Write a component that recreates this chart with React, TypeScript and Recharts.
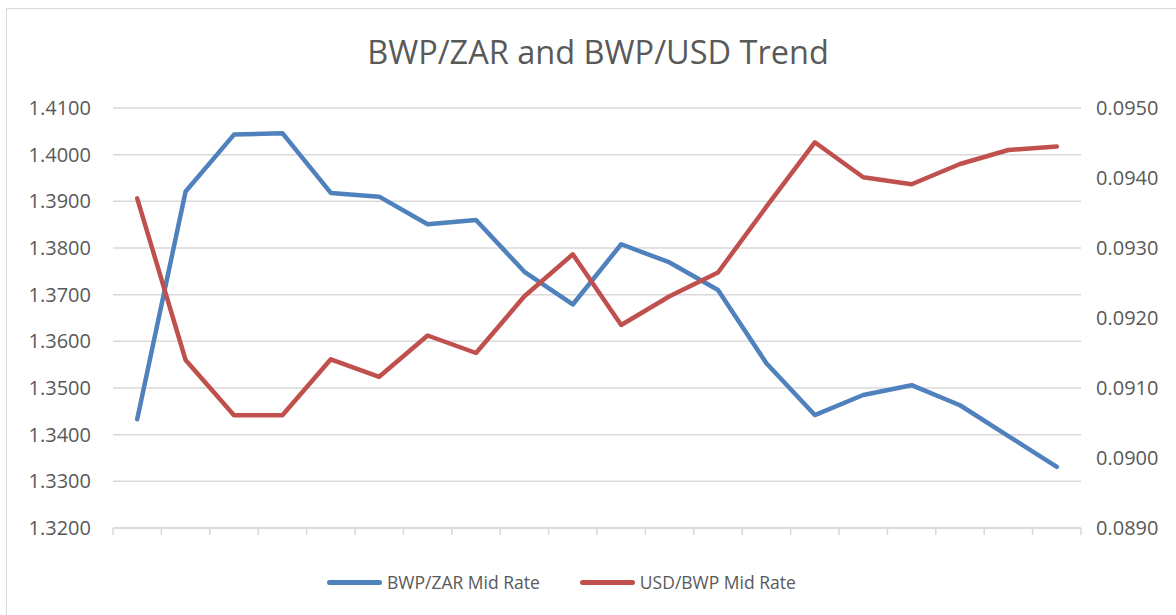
import { CartesianGrid, Line, LineChart, XAxis, YAxis } from "recharts";

// 20 periods, no labels shown on the x axis
const periods = ["1", "2", "3", "4", "5", "6", "7", "8", "9", "10", "11", "12", "13", "14", "15", "16", "17", "18", "19", "20"];

const bwpZar = [
  1.3433, 1.3921, 1.4043, 1.4046, 1.3918, 1.391, 1.3851, 1.386, 1.3749, 1.3679,
  1.3808, 1.3769, 1.371, 1.3553, 1.3442, 1.3485, 1.3506, 1.3463, 1.3397, 1.3331,
];

const usdBwp = [
  0.09371, 0.0914, 0.09061, 0.09061, 0.09141, 0.09116, 0.09175, 0.0915, 0.09231, 0.09291,
  0.0919, 0.09231, 0.09265, 0.09359, 0.09451, 0.09401, 0.09391, 0.0942, 0.0944, 0.09445,
];

const leftTicks = [1.32, 1.33, 1.34, 1.35, 1.36, 1.37, 1.38, 1.39, 1.4, 1.41];
const rightTicks = [0.089, 0.09, 0.091, 0.092, 0.093, 0.094, 0.095];
const xTicks = [0, 1, 2, 3, 4, 5, 6, 7, 8, 9, 10, 11, 12, 13, 14, 15, 16, 17, 18, 19, 20];

const BLUE = "#4F81BD";
const RED = "#C0504D";
const TEXT = "#595959";
const GRID = "#D9D9D9";
const FONT = "'Open Sans', sans-serif";

const rows = periods.map((p, i) => ({
  period: p,
  x: i + 0.5, // centre of the i-th category slot
  zar: bwpZar[i],
  usd: usdBwp[i],
}));

const tick = { fontSize: 20, fill: TEXT, fontFamily: FONT };

function LegendItem({ color, label }: { color: string; label: string }) {
  return (
    <span style={{ display: "flex", alignItems: "center", gap: 5 }}>
      <span style={{ display: "inline-block", width: 55, height: 5, borderRadius: 3, background: color }} />
      <span>{label}</span>
    </span>
  );
}

export default function App() {
  return (
    <div style={{ position: "absolute", left: 0, top: 0, width: 1176, height: 615, background: "#fff", overflow: "hidden" }}>
      <div
        style={{
          position: "absolute",
          left: 6,
          top: 8,
          width: 1200,
          height: 640,
          border: `1.5px solid ${GRID}`,
          boxSizing: "border-box",
        }}
      />
      <div
        style={{
          position: "absolute",
          left: 298,
          top: 32,
          width: 600,
          textAlign: "center",
          fontFamily: FONT,
          fontSize: 32.5,
          lineHeight: "40px",
          color: TEXT,
        }}
      >
        BWP/ZAR and BWP/USD Trend
      </div>
      <LineChart
        width={1176}
        height={615}
        data={rows}
        margin={{ top: 108, right: 0, bottom: 57, left: 0 }}
        style={{ position: "absolute", left: 0, top: 0 }}
      >
        <CartesianGrid yAxisId="left" stroke={GRID} strokeWidth={1.5} vertical={false} />
        <XAxis
          type="number"
          dataKey="x"
          domain={[0, 20]}
          ticks={xTicks}
          height={30}
          tickSize={7}
          tickFormatter={() => ""}
          axisLine={{ stroke: GRID, strokeWidth: 1.5 }}
          tickLine={{ stroke: GRID, strokeWidth: 1.5 }}
        />
        <YAxis
          yAxisId="left"
          domain={[1.32, 1.41]}
          ticks={leftTicks}
          width={113}
          tickSize={0}
          tickMargin={22}
          axisLine={false}
          tickLine={false}
          tick={tick}
          tickFormatter={(v: number) => v.toFixed(4)}
          allowDataOverflow
        />
        <YAxis
          yAxisId="right"
          orientation="right"
          domain={[0.089, 0.095]}
          ticks={rightTicks}
          width={95}
          tickSize={0}
          tickMargin={15}
          axisLine={false}
          tickLine={false}
          tick={{ ...tick, textAnchor: "start" }}
          tickFormatter={(v: number) => v.toFixed(4)}
          allowDataOverflow
        />
        <Line
          yAxisId="left"
          dataKey="zar"
          name="BWP/ZAR Mid Rate"
          stroke={BLUE}
          strokeWidth={4.5}
          strokeLinecap="round"
          strokeLinejoin="round"
          dot={false}
          isAnimationActive={false}
        />
        <Line
          yAxisId="right"
          dataKey="usd"
          name="USD/BWP Mid Rate"
          stroke={RED}
          strokeWidth={4.5}
          strokeLinecap="round"
          strokeLinejoin="round"
          dot={false}
          isAnimationActive={false}
        />
      </LineChart>
      <div
        style={{
          position: "absolute",
          left: 327,
          top: 570,
          height: 24,
          display: "flex",
          alignItems: "center",
          gap: 40,
          fontFamily: FONT,
          fontSize: 17.5,
          color: TEXT,
        }}
      >
        <LegendItem color={BLUE} label="BWP/ZAR Mid Rate" />
        <LegendItem color={RED} label="USD/BWP Mid Rate" />
      </div>
    </div>
  );
}
